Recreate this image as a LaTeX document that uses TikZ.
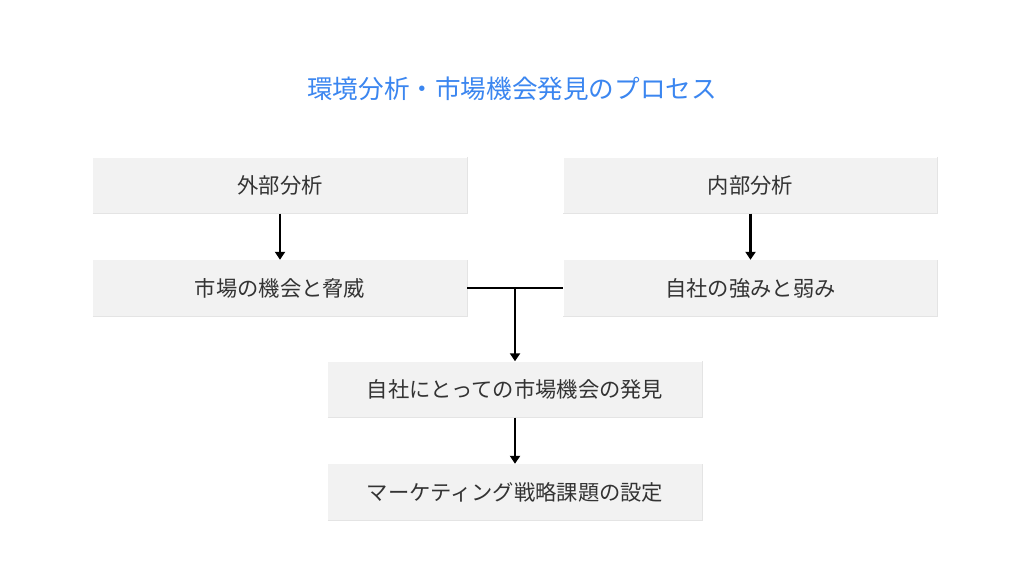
\documentclass[tikz,border=0pt]{standalone}
\usepackage{fontspec}
\newfontfamily\cjk{Noto Sans CJK JP}
\usetikzlibrary{arrows.meta}
\definecolor{boxfill}{HTML}{F2F2F2}
\definecolor{boxedge}{HTML}{E4E4E4}
\definecolor{titleblue}{HTML}{3B86F0}
\definecolor{txt}{HTML}{333333}
\tikzset{
  stepbox/.style={fill=boxfill, minimum width=374pt, minimum height=56pt, inner sep=0pt, text=txt, font=\cjk\fontsize{21.3}{24}\selectfont},
  flow/.style={line width=2.2pt, black},
  arr/.style={flow, -{Triangle[width=10pt,length=8pt]}}
}
\begin{document}
\begin{tikzpicture}[x=1pt,y=-1pt]
\useasboundingbox (0,0) rectangle (1024,576);
\fill[white] (0,0) rectangle (1024,576);
\node[text=titleblue, font=\cjk\fontsize{25.6}{30}\selectfont] (title) at (512,89) {環境分析・市場機会発見のプロセス};
\node[stepbox] (ext) at (280,185.5) {外部分析};
\node[stepbox] (int) at (750.5,185.5) {内部分析};
\node[stepbox] (opp) at (280,288) {市場の機会と脅威};
\node[stepbox] (str) at (750.5,288) {自社の強みと弱み};
\node[stepbox] (disc) at (515,389.5) {自社にとっての市場機会の発見};
\node[stepbox] (set) at (515,492) {マーケティング戦略課題の設定};
\foreach \n in {ext,int,opp,str,disc,set}{
  \draw[boxedge, line width=0.8pt] (\n.south west) -- (\n.south east) -- (\n.north east);
}
\coordinate (j) at (515,288);
\draw[arr] (ext) -- (opp);
\draw[arr] (int) -- (str);
\draw[flow] (opp.east) -- (str.west);
\draw[arr] (j) -- (disc.north);
\draw[arr] (disc) -- (set);
\end{tikzpicture}
\end{document}
